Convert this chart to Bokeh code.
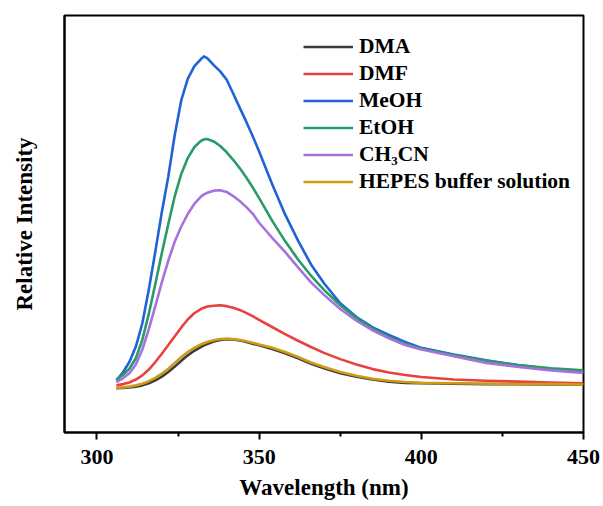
from bokeh.plotting import figure
from bokeh.models import FixedTicker, Legend, LegendItem, Range1d
from bokeh.embed import file_html
from bokeh.resources import INLINE

wavelength = [306, 308, 310, 312, 314, 316, 318, 320, 322, 324, 326, 328, 330, 332,
              333, 334, 336, 338, 340, 342, 344, 346, 348, 350, 354, 358, 362, 366,
              370, 375, 380, 385, 390, 395, 400, 410, 420, 430, 440, 450]

dma = [106, 107, 108, 110, 113, 118, 125, 134, 145, 158, 172, 185, 196, 205,
       209, 212, 218, 222, 224, 223, 221, 217, 213, 209, 200, 190, 178, 165,
       154, 142, 134, 127, 122, 119, 118, 117, 116, 116, 115, 115]
dmf = [113, 116, 120, 127, 137, 151, 169, 189, 210, 231, 252, 271, 286, 296,
       299, 302, 304, 305, 303, 299, 294, 287, 279, 270, 253, 236, 220, 205,
       191, 176, 163, 152, 144, 138, 133, 127, 124, 122, 120, 118]
meoh = [125, 144, 169, 206, 262, 343, 434, 528, 614, 714, 797, 848, 878, 895,
        902, 898, 881, 866, 846, 813, 779, 746, 711, 674, 596, 523, 460, 403,
        358, 310, 277, 252, 234, 217, 203, 187, 173, 161, 152, 146]
etoh = [127, 138, 153, 178, 222, 285, 356, 430, 500, 567, 620, 658, 684, 699,
        703, 704, 698, 687, 672, 654, 634, 612, 588, 562, 508, 459, 415, 376,
        342, 305, 274, 249, 229, 213, 201, 186, 172, 162, 154, 149]
ch3cn = [121, 130, 142, 163, 199, 248, 303, 360, 412, 458, 494, 524, 548, 565,
         571, 575, 580, 581, 577, 567, 555, 541, 525, 503, 467, 433, 396, 360,
         330, 296, 268, 245, 226, 210, 199, 183, 167, 157, 149, 143]
hepes = [107, 108, 110, 113, 117, 123, 131, 141, 153, 167, 181, 193, 203, 211,
         214, 217, 221, 224, 225, 224, 222, 219, 215, 211, 203, 193, 181, 168,
         157, 145, 136, 129, 124, 121, 119, 118, 117, 116, 116, 115]

labels = ["DMA", "DMF", "MeOH", "EtOH", "CH\u2083CN", "HEPES buffer solution"]
colors = ["#3c3c3c", "#e8423f", "#1f63d6", "#2a9b64", "#a871e0", "#cc9c14"]
series = [dma, dmf, meoh, etoh, ch3cn, hepes]

x_ticks = [300, 350, 400, 450]
x_minor = [325, 375, 425]

FONT = "Liberation Serif"

p = figure(width=603, height=506, output_backend="svg", toolbar_location=None,
           x_range=Range1d(290, 450), y_range=Range1d(0, 1000),
           min_border_left=64, min_border_right=20, min_border_top=15,
           min_border_bottom=74)
p.grid.visible = False
p.background_fill_color = "white"
p.border_fill_color = "white"
p.outline_line_color = "black"
p.outline_line_width = 2

items = []
for lab, col, ys in zip(labels, colors, series):
    r = p.line(wavelength, ys, line_color=col, line_width=2.6, line_join="round")
    items.append(LegendItem(label=lab, renderers=[r]))

# x axis
xa = p.xaxis[0]
xa.ticker = FixedTicker(ticks=x_ticks, minor_ticks=x_minor)
xa.axis_line_width = 2
xa.major_tick_line_width = 2
xa.minor_tick_line_width = 2
xa.major_tick_out = 7
xa.major_tick_in = 0
xa.minor_tick_out = 4
xa.minor_tick_in = 0
xa.major_label_text_font = FONT
xa.major_label_text_font_style = "bold"
xa.major_label_text_font_size = "22px"
xa.major_label_text_color = "black"
xa.major_label_standoff = 10
xa.axis_label = "Wavelength (nm)"
xa.axis_label_text_font = FONT
xa.axis_label_text_font_style = "bold"
xa.axis_label_text_font_size = "23px"
xa.axis_label_text_color = "black"
xa.axis_label_standoff = 8

# y axis
ya = p.yaxis[0]
ya.ticker = FixedTicker(ticks=[])
ya.axis_line_width = 2
ya.major_tick_line_color = None
ya.minor_tick_line_color = None
ya.major_label_text_font_size = "0px"
ya.major_label_standoff = 0
ya.major_tick_out = 0
ya.axis_label = "Relative Intensity"
ya.axis_label_text_font = FONT
ya.axis_label_text_font_style = "bold"
ya.axis_label_text_font_size = "23px"
ya.axis_label_text_color = "black"
ya.axis_label_standoff = 28

legend = Legend(items=items, location=(239, 237), padding=0, margin=0, spacing=0,
                label_height=27, glyph_height=27, glyph_width=50, label_standoff=6,
                label_text_font=FONT, label_text_font_style="bold",
                label_text_font_size="21.5px", label_text_color="black",
                border_line_color=None, background_fill_alpha=0)
p.add_layout(legend, "center")

open("out.html", "w").write(file_html(p, INLINE))
